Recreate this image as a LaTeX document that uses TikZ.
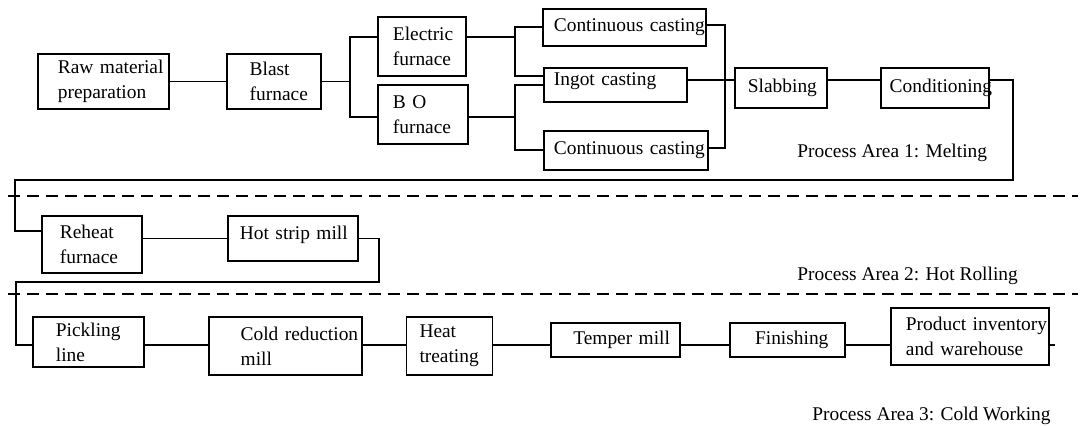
\documentclass[tikz,border=0pt]{standalone}
\usepackage{fontspec}
\setmainfont{Liberation Serif}
\usetikzlibrary{positioning}

\begin{document}
\begin{tikzpicture}[x=0.5pt, y=-0.5pt,
  box/.style={rectangle, draw, line width=0.9pt, inner xsep=0pt, inner ysep=0pt, align=left, font=\fontsize{9.7}{12.5}\selectfont},
  lpad/.style={execute at begin node={\leftskip=#1\relax}},
  link/.style={line width=0.8pt},
  sep/.style={line width=1.3pt, dash pattern=on 6pt off 3.5pt},
  area/.style={inner sep=0pt, anchor=base west, font=\fontsize{9.7}{12.5}\selectfont}]
  \useasboundingbox (0,0) rectangle (1080,426);

  \node[box, anchor=west, text width=65.5pt, minimum height=27.5pt, lpad=10pt] (raw) at (37,81.5) {Raw~material\\preparation};
  \node[box, right=28pt of raw, text width=47pt, minimum height=27.5pt, lpad=11.5pt] (blast) {Blast\\furnace};
  \node[box, anchor=west, text width=44pt, minimum height=29.5pt, lpad=7.5pt] (elec) at (377,46.5) {Electric\\furnace};
  \node[box, anchor=west, text width=45pt, minimum height=29.5pt, lpad=7.5pt] (bof) at (377,114.5) {B~O\\furnace};
  \node[box, anchor=west, text width=81.5pt, minimum height=18.5pt, lpad=5.5pt] (cc1) at (542,27.5) {Continuous~casting};
  \node[box, anchor=west, text width=71.5pt, minimum height=17pt, text depth=6pt, lpad=5pt] (ingot) at (543,85) {Ingot~casting};
  \node[box, anchor=west, text width=82pt, minimum height=19.5pt, lpad=5pt] (cc2) at (543,150.5) {Continuous~casting};
  \node[box, anchor=west, text width=46pt, minimum height=20pt, lpad=6.5pt] (slab) at (734,88) {Slabbing};
  \node[box, right=26pt of slab, text width=54pt, minimum height=20pt, lpad=4.5pt] (cond) {Conditioning};
  \node[area] (melt) at (797,158) {Process Area 1: Melting};

  \node[box, anchor=west, text width=50pt, minimum height=28.5pt, lpad=9pt] (reheat) at (41,244.5) {Reheat\\furnace};
  \node[box, anchor=west, text width=65pt, minimum height=22.5pt, text depth=6pt, lpad=6pt] (hsm) at (227,238.5) {Hot~strip~mill};
  \node[area] (hot) at (797,281) {Process Area 2: Hot Rolling};

  \node[box, anchor=west, text width=55.5pt, minimum height=25pt, lpad=11.5pt] (pick) at (32,342) {Pickling\\line};
  \node[box, right=31.5pt of pick, yshift=-2pt, text width=76.5pt, minimum height=29pt, lpad=16pt] (cold) {Cold~reduction\\mill};
  \node[box, right=21.5pt of cold, text width=43pt, minimum height=29pt, lpad=6.5pt] (heat) {Heat\\treating};
  \node[box, right=28.5pt of heat, yshift=3pt, text width=64.5pt, minimum height=17pt, lpad=11pt] (temper) {Temper~mill};
  \node[box, right=24pt of temper, text width=57.5pt, minimum height=17pt, lpad=12.5pt] (fin) {Finishing};
  \node[box, right=22pt of fin, yshift=1.75pt, text width=79pt, minimum height=28.5pt, lpad=7.5pt] (prod) {Product~inventory\\and~warehouse};
  \node[area] (coldw) at (812,421) {Process Area 3: Cold Working};

  \coordinate (ja1) at (350,37);
  \coordinate (ja2) at (350,117);
  \coordinate (jb1) at (515,27);
  \coordinate (jb2) at (515,76);
  \coordinate (jc1) at (515,85);
  \coordinate (jc2) at (515,150);
  \coordinate (jd1) at (725,25);
  \coordinate (jd2) at (725,148);
  \coordinate (jd3) at (725,80);
  \coordinate (l1a) at (1013,180);
  \coordinate (l1b) at (15,231);
  \coordinate (l2a) at (379,282);
  \coordinate (l2b) at (16,345);
  \coordinate (r3) at (0,345);
  \coordinate (tail) at (1055,345);
  \coordinate (s1a) at (8,196);
  \coordinate (s1b) at (1078,196);
  \coordinate (s2a) at (8,294);
  \coordinate (s2b) at (1078,294);

  \draw[link] (raw) -- (blast);
  \draw[link] (blast) -- (blast -| ja1);
  \draw[link] (ja1 -| elec.west) -- (ja1) -- (ja2) -- (ja2 -| bof.west);
  \draw[link] (ja1 -| elec.east) -- (ja1 -| jb1);
  \draw[link] (jb1 -| cc1.west) -- (jb1) -- (jb2) -- (jb2 -| ingot.west);
  \draw[link] (ja2 -| bof.east) -- (ja2 -| jc1);
  \draw[link] (jc1 -| ingot.west) -- (jc1) -- (jc2) -- (jc2 -| cc2.west);
  \draw[link] (jd1 -| cc1.east) -- (jd1) -- (jd2) -- (jd2 -| cc2.east);
  \draw[link] (jd3 -| ingot.east) -- (jd3 -| slab.west);
  \draw[link] (jd3 -| slab.east) -- (jd3 -| cond.west);
  \draw[link] (jd3 -| cond.east) -| (l1a) -| (l1b) -- (l1b -| reheat.west);
  \draw[link] (reheat.east |- hsm) -- (hsm);
  \draw[link] (hsm) -| (l2a) -| (l2b) -- (l2b -| pick.west);
  \foreach \a/\b in {pick/cold, cold/heat, heat/temper, temper/fin, fin/prod}
    \draw[link] (r3 -| \a.east) -- (r3 -| \b.west);
  \draw[link] (r3 -| prod.east) -- (tail);

  \draw[sep] (s1a) -- (s1b);
  \draw[sep] (s2a) -- (s2b);
\end{tikzpicture}
\end{document}
